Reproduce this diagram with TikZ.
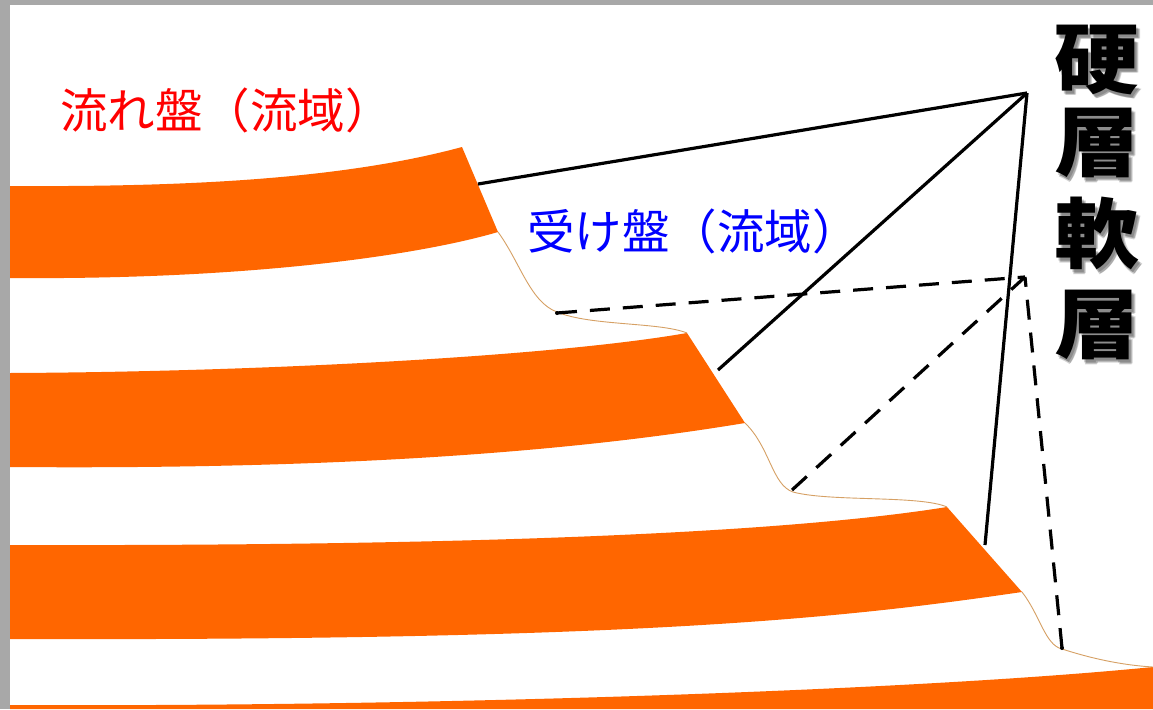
\documentclass[tikz,border=0pt]{standalone}
\usepackage{fontspec}
\newfontfamily\jpfont{Noto Sans CJK JP}
\definecolor{strata}{RGB}{255,102,0}
\definecolor{outcrop}{RGB}{214,160,100}
\definecolor{framegray}{RGB}{168,168,168}
\definecolor{labelred}{RGB}{255,0,0}
\definecolor{labelblue}{RGB}{0,0,255}
\begin{document}
\begin{tikzpicture}[x=1pt,y=-1pt,
  band/.style={fill=strata,draw=none},
  slope/.style={draw=outcrop,line width=0.9pt},
  hardline/.style={draw=black,line width=3.2pt},
  softline/.style={draw=black,line width=3.2pt,dash pattern=on 20pt off 13pt},
  tick/.style={fill=black,draw=none},
  label/.style={inner sep=0pt,anchor=base west,font=\jpfont\fontsize{47.5}{48}\selectfont},
  layerchar/.style={inner sep=0pt,anchor=base,yscale=0.9,font=\jpfont\bfseries\fontsize{85}{85}\selectfont}]
\useasboundingbox (0,0) rectangle (1153,709);
\fill[white] (0,0) rectangle (1153,709);
% frame edges
\fill[framegray] (0,0) rectangle (1153,5);
\fill[framegray] (0,0) rectangle (10,709);

% strata bands
\path[band] (10,186) .. controls (180,187) and (340,180) .. (462,147)
  -- (498,232) .. controls (420,255) and (250,280) .. (10,278) -- cycle;
\path[band] (10,373) .. controls (250,372) and (550,357) .. (687,333)
  -- (745,423) .. controls (600,447) and (380,470) .. (10,467) -- cycle;
\path[band] (10,545) .. controls (400,546) and (760,537) .. (947,507)
  -- (1022,592) .. controls (850,617) and (650,641) .. (10,639) -- cycle;
\path[band] (10,705) .. controls (400,707) and (900,692) .. (1153,667)
  -- (1153,709) -- (10,709) -- cycle;

% slope surfaces between bands
\draw[slope] (498,232) .. controls (520,262) and (530,302) .. (557,312)
  .. controls (590,326) and (660,322) .. (687,333);
\draw[slope] (745,423) .. controls (770,447) and (772,485) .. (793,492)
  .. controls (830,502) and (920,495) .. (947,507);
\draw[slope] (1022,592) .. controls (1040,615) and (1045,645) .. (1062,649)
  .. controls (1090,658) and (1120,665) .. (1153,667);

% apexes and contact points
\coordinate (A) at (1027,93);
\coordinate (B) at (1025,277);
\coordinate (P1) at (478,184);
\coordinate (P2) at (718,370);
\coordinate (P3) at (985,545);
\coordinate (Q1) at (557,313);
\coordinate (Q2) at (792,490);
\coordinate (Q3) at (1062,648);

% hard-layer lines
\draw[hardline] (P1) -- (A);
\draw[hardline] (P2) -- (A);
\draw[hardline] (P3) -- (A);
% soft-layer lines
\draw[softline] (Q1) -- (B);
\draw[softline] (Q2) -- (B);
\draw[softline] (Q3) -- (B);
\fill[tick] (Q1) circle (2);
\fill[tick] (Q3) circle (2);

% labels
\node[label,text=labelred] (flow) at (60,128) {流れ盤（流域）};
\node[label,text=labelblue] (recv) at (527,249) {受け盤（流域）};

% vertical title with drop shadow
\foreach \ch/\yy/\nm in {硬/87/c1,層/170/c2,軟/262/c3,層/352/c4}{
  \foreach \dx/\dy in {2/3,4/4,3/5}{
    \node[layerchar,text=black,opacity=0.18] at (1097+\dx,\yy+\dy) {\ch};
  }
  \node[layerchar,text=black] (\nm) at (1097,\yy) {\ch};
}
\end{tikzpicture}
\end{document}
